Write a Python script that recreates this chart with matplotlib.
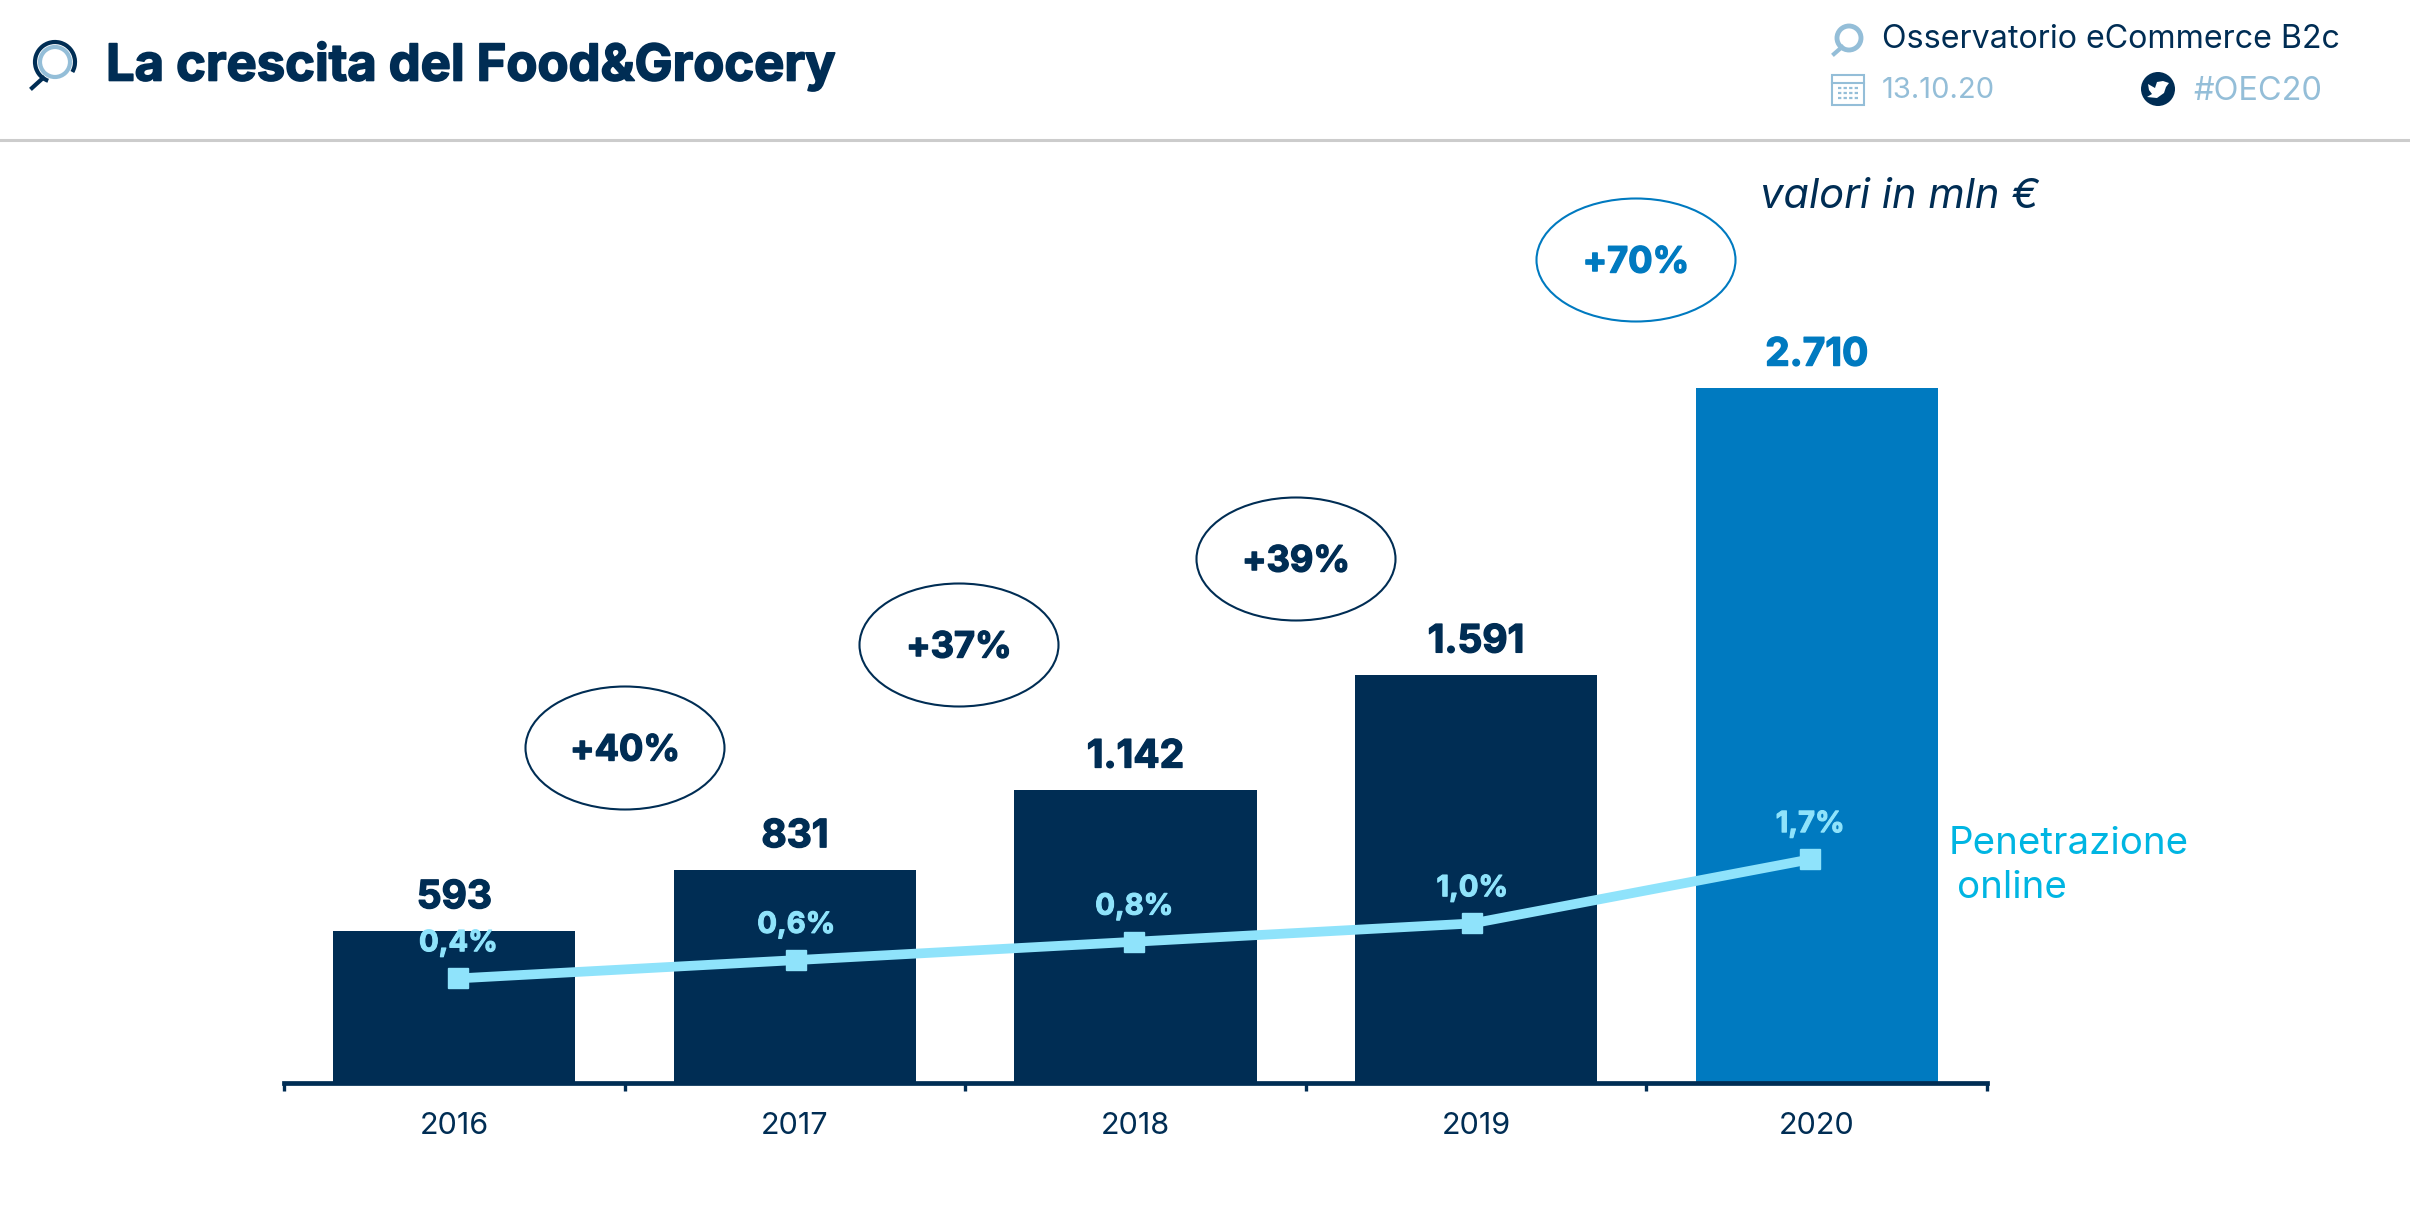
import matplotlib
matplotlib.use("Agg")
import matplotlib.pyplot as plt
import matplotlib.patheffects as pe
from matplotlib.patches import Arc, Circle, Ellipse, Polygon, Rectangle

plt.rcParams['font.family'] = ['Inter', 'DejaVu Sans']

NAVY = "#002D54"
BLUE = "#007AC0"
LINE = "#8FE3FB"
CYAN = "#00B5E2"
PALE = "#94BED8"

years = ["2016", "2017", "2018", "2019", "2020"]
sales = [593, 831, 1142, 1591, 2710]
sales_labels = ["593", "831", "1.142", "1.591", "2.710"]
penetration = [0.4, 0.6, 0.8, 1.0, 1.7]
penetration_labels = ["0,4%", "0,6%", "0,8%", "1,0%", "1,7%"]
growth_labels = ["+40%", "+37%", "+39%", "+70%"]

W, H = 2410, 1226
fig = plt.figure(figsize=(W / 100, H / 100), dpi=100, facecolor="white")

# everything that is not chart (header, icons, bubbles) goes on a pixel overlay
ov = fig.add_axes([0, 0, 1, 1], zorder=5)
ov.set_xlim(0, W)
ov.set_ylim(H, 0)
ov.axis("off")
ov.patch.set_alpha(0)


def rect_px(left, right, top, bottom):
    return [left / W, 1 - bottom / H, (right - left) / W, (bottom - top) / H]


def heavy(color, width=1.0):
    # the inter bold is lighter than the original lettering
    return [pe.withStroke(linewidth=width, foreground=color)]


# bars
ax = fig.add_axes(rect_px(284, 1987, 100, 1083), zorder=1)
ax.patch.set_alpha(0)
x = list(range(len(years)))
colors = [NAVY, NAVY, NAVY, NAVY, BLUE]
ax.bar(x, sales, width=0.711, color=colors, zorder=2)
ax.set_xlim(-0.5, 4.5)
ax.set_ylim(0, 3835)
for s in ["top", "left", "right"]:
    ax.spines[s].set_visible(False)
ax.spines["bottom"].set_color(NAVY)
ax.spines["bottom"].set_linewidth(3.4)
ax.yaxis.set_visible(False)
ax.set_xticks([i - 0.5 for i in range(len(years) + 1)])
ax.set_xticklabels([])
ax.tick_params(axis="x", which="major", length=6, width=2.4, color=NAVY)
ax.set_xticks(x, minor=True)
ax.set_xticklabels(years, minor=True, fontsize=22, color=NAVY)
ax.tick_params(axis="x", which="minor", length=0, pad=21)

for i, v in enumerate(sales):
    ax.annotate(sales_labels[i], (i, v), xytext=(0, 24), textcoords="offset points",
                ha="center", va="center", fontsize=28, fontweight="bold",
                color=colors[i], path_effects=heavy(colors[i]))

# penetration line, own scales
ax2 = fig.add_axes(rect_px(284, 1987, 100, 1083), zorder=2)
ax2.patch.set_alpha(0)
ax2.axis("off")
ax2.set_xlim(-0.516, 4.523)
ax2.set_ylim(-0.742, 9.99)
ax2.plot(x, penetration, color=LINE, lw=7, marker="s", ms=14, solid_capstyle="butt")
for i, v in enumerate(penetration):
    ax2.annotate(penetration_labels[i], (i, v), xytext=(0, 25), textcoords="offset points",
                 ha="center", va="center", fontsize=21, fontweight="bold", color=LINE,
                 path_effects=heavy(LINE, 0.8))

# growth bubbles
bubbles = [(625, 748), (959, 645), (1296, 559), (1636, 260)]
for i, (bx, by) in enumerate(bubbles):
    c = BLUE if i == 3 else NAVY
    ov.add_patch(Ellipse((bx, by), 199, 123, fill=False, ec=c, lw=1.5))
    ov.text(bx, by + 3, growth_labels[i], ha="center", va="center", fontsize=26,
            fontweight="bold", color=c, path_effects=heavy(c))

# header
ov.plot([0, W], [139.5, 139.5], color="#CCCCCC", lw=2.2)
ov.text(106, 66, "La crescita del Food&Grocery", fontsize=36.5, fontweight="bold",
        color=NAVY, ha="left", va="center", path_effects=heavy(NAVY, 1.2))
ov.text(1882, 40, "Osservatorio eCommerce B2c", fontsize=23.2, color=NAVY, ha="left", va="center")
ov.text(1882, 91, "13.10.20", fontsize=21, color=PALE, ha="left", va="center")
ov.text(2193, 91, "#OEC20", fontsize=23.4, color=PALE, ha="left", va="center")
ov.text(1760, 197, "valori in mln €", fontsize=30, style="italic", color=NAVY,
        ha="left", va="center")
ov.text(1949, 844, "Penetrazione", fontsize=27.7, color=CYAN, ha="left", va="center")
ov.text(1957, 888, "online", fontsize=27.7, color=CYAN, ha="left", va="center")

# magnifier icons
ov.add_patch(Ellipse((55, 62), 30, 30, fill=False, ec=PALE, lw=3))
ov.add_patch(Arc((55, 62), 40, 40, theta1=110, theta2=30, ec=NAVY, lw=3))
ov.plot([43, 32], [78, 88], color=NAVY, lw=3)
ov.add_patch(Circle((1849, 38), 12, fill=False, ec=PALE, lw=3.5))
ov.plot([1842, 1834], [47, 54], color=PALE, lw=3)

# calendar icon
ov.add_patch(Rectangle((1832, 75), 32, 30, fill=False, ec=PALE, lw=1.5))
ov.plot([1832, 1864], [83, 83], color=PALE, lw=1.5)
for cy in (88, 93, 98):
    ov.plot([1838, 1858], [cy, cy], color=PALE, lw=1.6, ls=(0, (1.5, 1)))

# twitter badge
ov.add_patch(Circle((2158, 89), 17, fc=NAVY, ec="none"))
ov.add_patch(Polygon([(2148, 84), (2155, 88), (2157, 82), (2163, 81), (2169, 83),
                      (2166, 87), (2164, 93), (2157, 98), (2147, 97), (2152, 94),
                      (2149, 90)], fc="white", ec="none"))

fig.savefig("out.png", dpi=100, facecolor="white")
plt.close(fig)
